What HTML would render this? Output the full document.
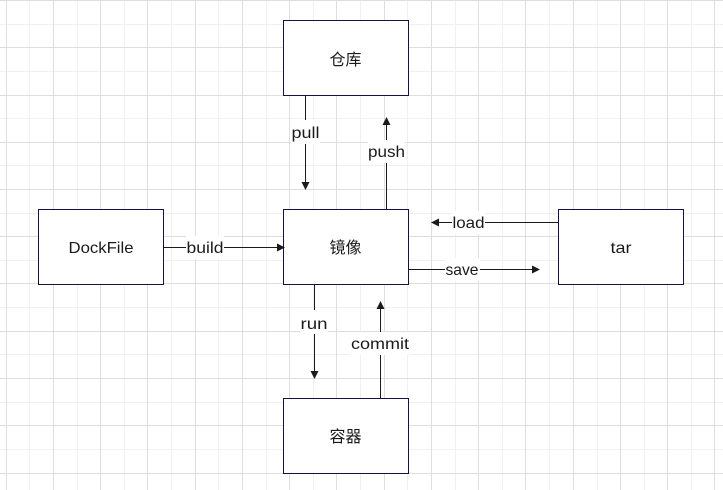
<!DOCTYPE html>
<html>
<head>
<meta charset="utf-8">
<style>
html,body{margin:0;padding:0;background:#fff;width:723px;height:490px;overflow:hidden}
svg{display:block}
text{font-family:"Liberation Sans","Noto Sans CJK SC",sans-serif;font-size:16px;fill:#1a1a1a;text-anchor:middle}
.cjk{font-size:16px}
</style>
</head>
<body>
<svg width="723" height="490" viewBox="0 0 723 490" xmlns="http://www.w3.org/2000/svg">
<rect width="723" height="490" fill="#fff"/>
<g stroke="#f0f0f0" stroke-width="1" fill="none">
<path d="M29.5 0V490M77.5 0V490M124.5 0V490M171.5 0V490M218.5 0V490M266.5 0V490M313.5 0V490M360.5 0V490M407.5 0V490M455.5 0V490M502.5 0V490M549.5 0V490M597.5 0V490M644.5 0V490M691.5 0V490"/>
<path d="M0 24.5H723M0 71.5H723M0 118.5H723M0 165.5H723M0 213.5H723M0 260.5H723M0 307.5H723M0 354.5H723M0 402.5H723M0 449.5H723"/>
</g>
<g stroke="#dedede" stroke-width="1" fill="none">
<path d="M6.5 0V490M53.5 0V490M100.5 0V490M147.5 0V490M195.5 0V490M242.5 0V490M289.5 0V490M336.5 0V490M384.5 0V490M431.5 0V490M478.5 0V490M525.5 0V490M573.5 0V490M620.5 0V490M667.5 0V490M714.5 0V490"/>
<path d="M0 0.5H723M0 47.5H723M0 95.5H723M0 142.5H723M0 189.5H723M0 236.5H723M0 283.5H723M0 331.5H723M0 378.5H723M0 425.5H723M0 473.5H723"/>
</g>

<g fill="#fff" stroke="#0f1440" stroke-width="1">
<rect x="283.5" y="20.5" width="125" height="75"/>
<rect x="38.5" y="209.5" width="125" height="75"/>
<rect x="283.5" y="209.5" width="125" height="75"/>
<rect x="558.5" y="209.5" width="125" height="75"/>
<rect x="283.5" y="398.5" width="125" height="75"/>
</g>

<g stroke="#1a1a1a" stroke-width="1" fill="none">
<path d="M305.5 96V184"/>
<path d="M386.5 209V124"/>
<path d="M314.5 285V373"/>
<path d="M380.5 398V307"/>
<path d="M558 222.5H437"/>
<path d="M409 269.5H533"/>
<path d="M164 247.5H278"/>
</g>
<g fill="#1a1a1a">
<path d="M305.5 190L301.5 182H309.5Z"/>
<path d="M386.5 117L382.5 125H390.5Z"/>
<path d="M314.5 379L310.5 371H318.5Z"/>
<path d="M380.5 301L376.5 309H384.5Z"/>
<path d="M431 222.5L439 218.5V226.5Z"/>
<path d="M540 269.5L532 265.5V273.5Z"/>
<path d="M285 247.5L277 243.5V251.5Z"/>
</g>

<g fill="#fff">
<rect x="291" y="120" width="29" height="24"/>
<rect x="368" y="140" width="37" height="23"/>
<rect x="300" y="310" width="28" height="24"/>
<rect x="350" y="332" width="60" height="23"/>
<rect x="452" y="211" width="33" height="23"/>
<rect x="445" y="258" width="35" height="23"/>
<rect x="186" y="236" width="38" height="23"/>
</g>

<text x="345.5" y="65" class="cjk">仓库</text>
<text x="101" y="253" textLength="65" lengthAdjust="spacingAndGlyphs">DockFile</text>
<text x="345.5" y="253" class="cjk">镜像</text>
<text x="621" y="253" textLength="21" lengthAdjust="spacingAndGlyphs">tar</text>
<text x="345.5" y="442" class="cjk">容器</text>

<text x="305.5" y="138" textLength="28" lengthAdjust="spacingAndGlyphs">pull</text>
<text x="386.5" y="157" textLength="37" lengthAdjust="spacingAndGlyphs">push</text>
<text x="314" y="329" textLength="27" lengthAdjust="spacingAndGlyphs">run</text>
<text x="380" y="349" textLength="58" lengthAdjust="spacingAndGlyphs">commit</text>
<text x="468.5" y="228" textLength="32" lengthAdjust="spacingAndGlyphs">load</text>
<text x="462" y="275" textLength="33" lengthAdjust="spacingAndGlyphs">save</text>
<text x="205" y="253" textLength="37" lengthAdjust="spacingAndGlyphs">build</text>
</svg>
</body>
</html>
